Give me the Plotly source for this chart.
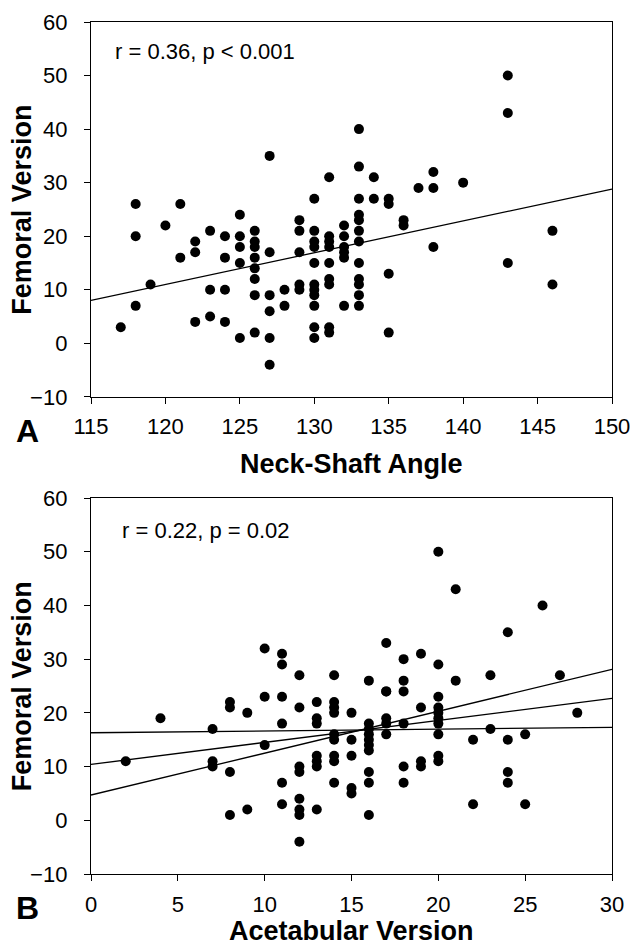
import plotly.graph_objects as go

# ---------------- Panel A data: Neck-shaft angle vs femoral version ----------------
nsa_x = [117, 118, 118, 118, 119, 120, 121, 121, 122, 122, 122,
         123, 123, 123, 124, 124, 124, 124, 125, 125, 125, 125, 125,
         126, 126, 126, 126, 126, 126, 126, 126,
         127, 127, 127, 127, 127, 127, 128, 128,
         129, 129, 129, 129, 129,
         130, 130, 130, 130, 130, 130, 130, 130, 130, 130, 130,
         131, 131, 131, 131, 131, 131, 131, 131, 131,
         132, 132, 132, 132, 132, 132,
         133, 133, 133, 133, 133, 133, 133, 133, 133, 133, 133, 133,
         134, 134, 135, 135, 135, 135, 136, 136, 137, 138, 138, 138,
         140, 143, 143, 143, 146, 146]
nsa_fv = [3, 26, 20, 7, 11, 22, 26, 16, 19, 17, 4,
          21, 10, 5, 20, 16, 10, 4, 24, 20, 18, 15, 1,
          21, 19, 18, 16, 14, 12, 9, 2,
          35, 17, 9, 6, 1, -4, 10, 7,
          23, 21, 17, 11, 10,
          27, 21, 19, 18, 15, 11, 10, 9, 7, 3, 1,
          31, 20, 19, 18, 15, 12, 11, 3, 2,
          22, 20, 18, 17, 16, 7,
          40, 33, 27, 24, 23, 21, 19, 15, 12, 11, 9, 7,
          31, 27, 27, 26, 13, 2, 23, 22, 29, 32, 29, 18,
          30, 50, 43, 15, 21, 11]
fit_a_x = [115, 150]
fit_a_y = [8.0, 28.8]

# ---------------- Panel B data: Acetabular version vs femoral version ----------------
av_x = [2, 4, 7, 7, 7, 8, 8, 8, 8, 9, 9, 10, 10, 10,
        11, 11, 11, 11, 11, 11,
        12, 12, 12, 12, 12, 12, 12, 12,
        13, 13, 13, 13, 13, 13, 13,
        14, 14, 14, 14, 14, 14, 14, 14, 14,
        15, 15, 15, 15, 15,
        16, 16, 16, 16, 16, 16, 16, 16, 16, 16,
        17, 17, 17, 17, 17, 17,
        18, 18, 18, 18, 18, 18,
        19, 19, 19, 19,
        20, 20, 20, 20, 20, 20, 20, 20, 20, 20,
        21, 21, 22, 22, 23, 23, 24, 24, 24, 24, 25, 25, 26, 27, 28]
av_fv = [11, 19, 17, 11, 10, 22, 21, 9, 1, 20, 2, 32, 23, 14,
         31, 29, 23, 18, 7, 3,
         27, 21, 10, 9, 4, 2, 1, -4,
         22, 19, 18, 12, 11, 10, 2,
         27, 22, 21, 20, 16, 15, 12, 11, 7,
         20, 15, 12, 6, 5,
         26, 18, 17, 16, 15, 14, 13, 9, 7, 1,
         33, 24, 19, 18, 16, 24,
         30, 26, 24, 18, 10, 7,
         31, 21, 11, 10,
         50, 29, 23, 21, 20, 19, 18, 16, 12, 11,
         43, 26, 15, 3, 27, 17, 35, 15, 9, 7, 16, 3, 40, 27, 20]
fit_b_x = [0, 30]
fit_b_upper = [4.7, 28.1]
fit_b_mid = [10.4, 22.7]
fit_b_lower = [16.3, 17.3]

FONT = "Liberation Sans, Arial, sans-serif"

fig = go.Figure()
mk = dict(color="black", size=10, line=dict(width=0))
fig.add_trace(go.Scatter(x=nsa_x, y=nsa_fv, mode="markers", marker=mk,
                         xaxis="x", yaxis="y", showlegend=False))
fig.add_trace(go.Scatter(x=fit_a_x, y=fit_a_y, mode="lines",
                         line=dict(color="black", width=1.3),
                         xaxis="x", yaxis="y", showlegend=False))
fig.add_trace(go.Scatter(x=av_x, y=av_fv, mode="markers", marker=mk,
                         xaxis="x2", yaxis="y2", showlegend=False))
for ys in (fit_b_upper, fit_b_mid, fit_b_lower):
    fig.add_trace(go.Scatter(x=fit_b_x, y=ys, mode="lines",
                             line=dict(color="black", width=1.3),
                             xaxis="x2", yaxis="y2", showlegend=False))

axis_common = dict(showline=True, linecolor="black", linewidth=1.3, mirror=True,
                   ticks="outside", ticklen=6, tickwidth=1.3, tickcolor="black",
                   showgrid=False, zeroline=False, automargin=False,
                   tickfont=dict(family=FONT, size=22, color="black"))

fig.update_layout(
    width=632, height=945,
    margin=dict(l=91, r=20, t=22, b=71, autoexpand=False),
    paper_bgcolor="white", plot_bgcolor="white",
    xaxis=dict(domain=[0, 1], range=[115, 150], tickvals=[115, 120, 125, 130, 135, 140, 145, 150],
               anchor="y", ticklabelstandoff=4, **axis_common),
    yaxis=dict(domain=[0.56, 1], range=[-10, 60], tickvals=[-10, 0, 10, 20, 30, 40, 50, 60],
               anchor="x", ticklabelstandoff=12, **axis_common),
    xaxis2=dict(domain=[0, 1], range=[0, 30], tickvals=[0, 5, 10, 15, 20, 25, 30],
                anchor="y2", ticklabelstandoff=4, **axis_common),
    yaxis2=dict(domain=[0, 0.4413], range=[-10, 60], tickvals=[-10, 0, 10, 20, 30, 40, 50, 60],
                anchor="x2", ticklabelstandoff=12, **axis_common),
)

ann = []
ann.append(dict(text="r = 0.36, p < 0.001", xref="x domain", yref="y domain", x=0.042, y=0.92,
                xanchor="left", yanchor="middle", showarrow=False,
                font=dict(family=FONT, size=22, color="black")))
ann.append(dict(text="r = 0.22, p = 0.02", xref="x2 domain", yref="y2 domain", x=0.055, y=0.914,
                xanchor="left", yanchor="middle", showarrow=False,
                font=dict(family=FONT, size=22, color="black")))
title_font = dict(family=FONT, size=27, color="black", weight="bold")
ann.append(dict(text="Femoral Version", xref="paper", yref="y domain", x=-0.132, y=0.5,
                textangle=-90, xanchor="center", yanchor="middle", showarrow=False, font=title_font))
ann.append(dict(text="Femoral Version", xref="paper", yref="y2 domain", x=-0.132, y=0.5,
                textangle=-90, xanchor="center", yanchor="middle", showarrow=False, font=title_font))
ann.append(dict(text="Neck-Shaft Angle", xref="paper", yref="y domain", x=0.5, y=-0.18,
                xanchor="center", yanchor="middle", showarrow=False, font=title_font))
ann.append(dict(text="Acetabular Version", xref="paper", yref="y2 domain", x=0.5, y=-0.152,
                xanchor="center", yanchor="middle", showarrow=False, font=title_font))
label_font = dict(family=FONT, size=32, color="black", weight="bold")
ann.append(dict(text="A", xref="paper", yref="y domain", x=-0.121, y=-0.09,
                xanchor="center", yanchor="middle", showarrow=False, font=label_font))
ann.append(dict(text="B", xref="paper", yref="y2 domain", x=-0.121, y=-0.09,
                xanchor="center", yanchor="middle", showarrow=False, font=label_font))
fig.update_layout(annotations=ann)

# remove the browser's default page margin so the figure sits at the window's corner
fig.write_html("out.html", config={"displayModeBar": False},
               post_script="document.body.style.margin='0';document.body.style.overflow='hidden';")
